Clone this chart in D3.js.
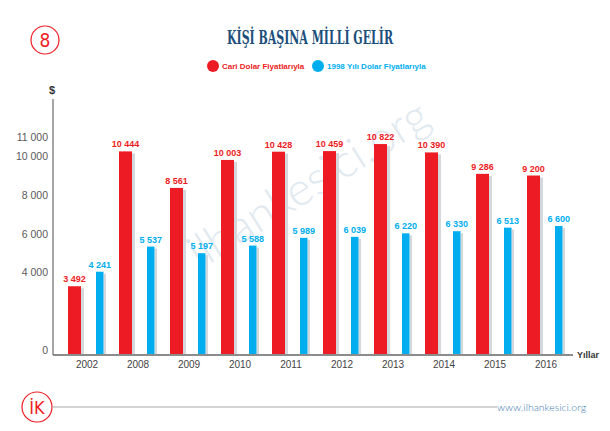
<!DOCTYPE html>
<html><head><meta charset="utf-8">
<script src="https://cdn.jsdelivr.net/npm/d3@7"></script>
<style>body{margin:0;background:#fff}svg{display:block}</style>
</head><body>
<script>
const years = ["2002","2008","2009","2010","2011","2012","2013","2014","2015","2016"];
const cari = [3492,10444,8561,10003,10428,10459,10822,10390,9286,9200];
const real1998 = [4241,5537,5197,5588,5989,6039,6220,6330,6513,6600];
const yTicks = [0,4000,6000,8000,10000,11000];
const seriesNames = ["Cari Dolar Fiyatlarıyla","1998 Yılı Dolar Fiyatlarıyla"];
const title = "KİŞİ BAŞINA MİLLİ GELİR";

const W=610,H=431;
const RED="#ed1c24", BLUE="#00aeef";
const svg=d3.select("body").append("svg").attr("width",W).attr("height",H);

const y=d3.scaleLinear().domain([0,10000]).range([354,160]);
const x=d3.scaleBand().domain(years).range([60,570]).padding(0);
const fmtLbl=v=>{const s=String(v);return s.length>3?s.slice(0,s.length-3)+" "+s.slice(-3):s;};

// watermark
svg.append("text").attr("transform","translate(200,270) rotate(-32)")
  .attr("font-family","Lato, 'Open Sans', sans-serif").attr("font-weight",300)
  .attr("font-size",46).attr("fill","#e1e9f0").text("ilhankesici.org");

// title
svg.append("text").attr("x",310).attr("y",44).attr("text-anchor","middle")
  .attr("font-family","'DejaVu Serif Condensed','DejaVu Serif',serif").attr("font-stretch","condensed")
  .attr("font-weight","bold").attr("font-size",19).attr("fill","#1d4f7c")
  .attr("textLength",166).attr("lengthAdjust","spacingAndGlyphs").text(title);

// page number circle
svg.append("circle").attr("cx",45).attr("cy",40).attr("r",14).attr("fill","none").attr("stroke",RED).attr("stroke-width",1.2);
svg.append("text").attr("x",45).attr("y",47).attr("text-anchor","middle").attr("font-family","'DejaVu Sans Condensed','DejaVu Sans',sans-serif")
  .attr("font-size",19).attr("fill",RED).text("8");

// legend
const lg=[{x:213,c:RED,t:seriesNames[0]},{x:318,c:BLUE,t:seriesNames[1]}];
lg.forEach(l=>{
  svg.append("circle").attr("cx",l.x).attr("cy",66).attr("r",6).attr("fill",l.c);
  svg.append("text").attr("x",l.x+9).attr("y",69).attr("font-family","'Liberation Sans',Arial,sans-serif").attr("font-weight","bold")
    .attr("font-size",8).attr("fill",l.c).text(l.t);
});

// axis labels
svg.append("text").attr("x",52).attr("y",94).attr("text-anchor","middle").attr("font-family","'Liberation Sans',Arial,sans-serif")
  .attr("font-weight","bold").attr("font-size",11).attr("fill","#333").text("$");
svg.append("line").attr("x1",53).attr("x2",53).attr("y1",99).attr("y2",355).attr("stroke","#888").attr("stroke-width",1.5);

const yAxis=svg.append("g").attr("transform","translate(48,0)")
  .call(d3.axisLeft(y).tickValues(yTicks).tickSize(0).tickPadding(0).tickFormat(fmtLbl));
yAxis.select(".domain").remove();
yAxis.selectAll("text").attr("font-family","'Liberation Sans',Arial,sans-serif").attr("font-size",10.5).attr("fill","#5a5a5a")
  .attr("dy","-0.05em");

// bars
const g=svg.append("g");
const redOff=8, redW=13, blueOff=36, blueW=7.5;
years.forEach((yr,i)=>{
  const x0=x(yr);
  g.append("rect").attr("x",x0+redOff+redW).attr("y",y(cari[i])+2).attr("width",3).attr("height",y(0)-y(cari[i])-2).attr("fill","#d4d8dc");
  g.append("rect").attr("x",x0+blueOff+blueW).attr("y",y(real1998[i])+2).attr("width",2.5).attr("height",y(0)-y(real1998[i])-2).attr("fill","#d4d8dc");
  g.append("rect").attr("x",x0+redOff).attr("y",y(cari[i])).attr("width",redW).attr("height",y(0)-y(cari[i])).attr("fill",RED);
  g.append("rect").attr("x",x0+blueOff).attr("y",y(real1998[i])).attr("width",blueW).attr("height",y(0)-y(real1998[i])).attr("fill",BLUE);
  g.append("text").attr("x",x0+redOff+redW/2).attr("y",y(cari[i])-4).attr("text-anchor","middle")
    .attr("font-family","'Liberation Sans',Arial,sans-serif").attr("font-weight","bold").attr("font-size",9).attr("fill",RED).text(fmtLbl(cari[i]));
  g.append("text").attr("x",x0+blueOff+blueW/2).attr("y",y(real1998[i])-4).attr("text-anchor","middle")
    .attr("font-family","'Liberation Sans',Arial,sans-serif").attr("font-weight","bold").attr("font-size",9).attr("fill",BLUE).text(fmtLbl(real1998[i]));
});

// x axis
svg.append("line").attr("x1",53).attr("x2",573).attr("y1",355).attr("y2",355).attr("stroke","#666").attr("stroke-width",1.5);
const xAxis=svg.append("g").attr("transform","translate(0,355)")
  .call(d3.axisBottom(x).tickSize(0).tickPadding(6));
xAxis.select(".domain").remove();
xAxis.selectAll(".tick").attr("transform",d=>`translate(${x(d)+27},0)`);
xAxis.selectAll("text").attr("font-family","'Liberation Sans',Arial,sans-serif").attr("font-size",10).attr("fill","#444");
svg.append("text").attr("x",577).attr("y",358).attr("font-family","'Liberation Sans',Arial,sans-serif").attr("font-weight","bold")
  .attr("font-size",9).attr("fill","#333").text("Yıllar");

// footer
svg.append("circle").attr("cx",37).attr("cy",407).attr("r",15).attr("fill","none").attr("stroke",RED).attr("stroke-width",1.2);
svg.append("text").attr("x",37).attr("y",414).attr("text-anchor","middle").attr("font-family","'DejaVu Sans Condensed','DejaVu Sans',sans-serif")
  .attr("font-size",18).attr("fill",RED).text("İK");
svg.append("line").attr("x1",52).attr("x2",497).attr("y1",407).attr("y2",407).attr("stroke","#aaa").attr("stroke-width",1.2);
svg.append("text").attr("x",497).attr("y",411).attr("font-family","Lato,'Open Sans',sans-serif").attr("font-weight",300)
  .attr("font-size",10.5).attr("fill","#3f7cb0").text("www.ilhankesici.org");
</script>
</body></html>
